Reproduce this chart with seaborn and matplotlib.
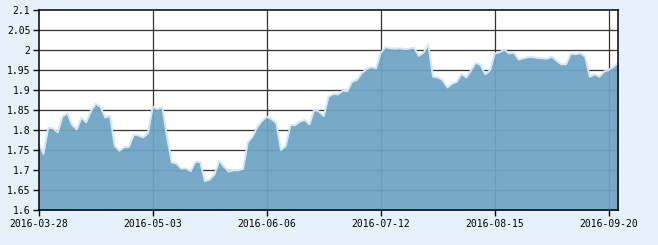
import matplotlib
matplotlib.use("Agg")
import matplotlib.pyplot as plt
import seaborn as sns
import pandas as pd
import numpy as np

# Trading-day index axis (Chinese market calendar), ticks every 24 trading days
tick_labels = ["2016-03-28", "2016-05-03", "2016-06-06", "2016-07-12", "2016-08-15", "2016-09-20"]
tick_positions = [0, 24, 48, 72, 96, 120]

values = [
    1.769, 1.741, 1.806, 1.805, 1.795, 1.834, 1.843, 1.814, 1.802, 1.832,
    1.820, 1.848, 1.866, 1.859, 1.832, 1.836, 1.761, 1.749, 1.758, 1.759,
    1.789, 1.787, 1.782, 1.793, 1.859, 1.853, 1.859, 1.785, 1.720, 1.717,
    1.704, 1.705, 1.698, 1.722, 1.720, 1.673, 1.677, 1.690, 1.724, 1.709,
    1.697, 1.700, 1.700, 1.703, 1.770, 1.784, 1.808, 1.824, 1.834, 1.828,
    1.818, 1.751, 1.761, 1.813, 1.813, 1.822, 1.826, 1.815, 1.852, 1.847,
    1.836, 1.884, 1.891, 1.890, 1.899, 1.898, 1.922, 1.926, 1.943, 1.953,
    1.958, 1.955, 1.994, 2.008, 2.005, 2.004, 2.005, 2.003, 2.004, 2.007,
    1.986, 1.994, 2.015, 1.934, 1.932, 1.926, 1.907, 1.917, 1.921, 1.941,
    1.932, 1.950, 1.969, 1.963, 1.940, 1.950, 1.992, 1.995, 2.002, 1.992,
    1.995, 1.977, 1.980, 1.983, 1.983, 1.981, 1.980, 1.979, 1.984, 1.974,
    1.965, 1.965, 1.992, 1.990, 1.993, 1.984, 1.934, 1.940, 1.934, 1.947,
    1.951, 1.959, 1.969,
]
y_ticks = [1.6, 1.65, 1.7, 1.75, 1.8, 1.85, 1.9, 1.95, 2.0, 2.05, 2.1]
y_tick_labels = ["1.6", "1.65", "1.7", "1.75", "1.8", "1.85", "1.9", "1.95", "2", "2.05", "2.1"]

df = pd.DataFrame({"idx": np.arange(len(values)), "value": values})

sns.set_style("white")
plt.rcParams["font.family"] = ["DejaVu Sans Mono", "DejaVu Sans"]

bg = "#e6f2fb"
fig = plt.figure(figsize=(6.58, 2.45), dpi=100, facecolor=bg)
ax = fig.add_axes([38.7 / 658, 1 - 210.3 / 245, (618.3 - 38.7) / 658, 200 / 245])
ax.set_facecolor("white")

for yv in y_ticks[1:-1]:
    ax.axhline(yv, color="#333333", lw=0.9, zorder=1)
for xv in tick_positions[1:]:
    ax.axvline(xv, color="#333333", lw=0.9, zorder=1)

ax.fill_between(df["idx"], df["value"], 1.6, color="#6fa5c5", alpha=0.94, lw=0, zorder=2)
sns.lineplot(data=df, x="idx", y="value", ax=ax, color="#d2e8f6", lw=1.4, zorder=3)

ax.set_xlim(0, len(values) - 1)
ax.set_ylim(1.6, 2.1)
ax.set_xticks(tick_positions)
ax.set_xticklabels(tick_labels)
ax.set_yticks(y_ticks)
ax.set_yticklabels(y_tick_labels)
ax.set_xlabel("")
ax.set_ylabel("")
ax.tick_params(axis="both", direction="out", length=4, width=1, color="black",
               labelsize=7, labelcolor="black", pad=2)
ax.tick_params(axis="x", bottom=True)
ax.tick_params(axis="y", left=True)
for s in ax.spines.values():
    s.set_color("black")
    s.set_linewidth(1.1)
    s.set_visible(True)
    s.set_zorder(5)

fig.savefig("out.png", dpi=100, facecolor=bg)
